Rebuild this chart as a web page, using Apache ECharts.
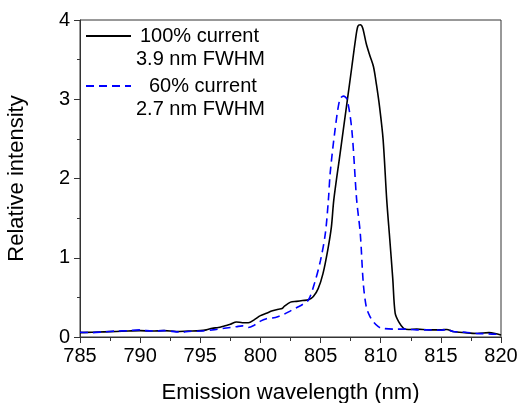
<!DOCTYPE html>
<html>
<head>
<meta charset="utf-8">
<script src="https://cdn.jsdelivr.net/npm/echarts@6/dist/echarts.min.js"></script>
<style>html,body{margin:0;padding:0;background:#fff}#c{width:520px;height:403px}</style>
</head>
<body>
<div id="c"></div>
<script>
// Data
var wl100 = [785,786,787,788,789,790,791,792,793,794,795,795.5,796,796.5,797,797.5,798,798.5,799,799.5,800,800.5,801,801.5,801.8,802,802.5,803,803.5,804,804.4,804.8,805.2,805.6,805.9,806.1,806.6,807.2,807.6,807.9,808.1,808.3,808.5,808.8,809.1,809.4,809.65,809.9,810.2,810.5,810.75,811,811.2,811.5,811.9,812.3,813,814,815,815.5,816,817,818,819,819.5,820];
var int100 = [0.055,0.06,0.065,0.07,0.075,0.08,0.075,0.08,0.07,0.075,0.08,0.09,0.11,0.12,0.14,0.16,0.19,0.18,0.18,0.22,0.27,0.30,0.33,0.35,0.36,0.39,0.44,0.45,0.46,0.47,0.51,0.61,0.80,1.10,1.39,1.73,2.29,2.96,3.41,3.75,3.92,3.94,3.90,3.70,3.55,3.41,3.18,2.91,2.49,1.73,1.24,0.74,0.30,0.19,0.11,0.095,0.10,0.09,0.09,0.095,0.07,0.055,0.045,0.055,0.045,0.025];
var wl60 = [785,786,787,788,789,790,790.5,791,792,793,793.5,794,795,796,797,798,798.5,799,799.5,800,800.5,801,801.5,802,802.5,803,803.5,804,804.5,805,805.4,805.65,805.8,806.2,806.6,806.9,807.2,807.6,808,808.3,808.55,808.8,809.1,809.4,809.8,810.1,811,812,813,814,815,815.5,816,817,818,819,820];
var int60 = [0.06,0.055,0.065,0.075,0.08,0.09,0.08,0.075,0.08,0.065,0.06,0.07,0.075,0.09,0.11,0.13,0.14,0.12,0.15,0.20,0.23,0.24,0.26,0.29,0.33,0.37,0.41,0.47,0.68,0.97,1.31,1.73,2.07,2.61,3.00,3.04,3.00,2.61,1.73,1.31,0.68,0.38,0.26,0.19,0.13,0.11,0.10,0.10,0.09,0.09,0.085,0.095,0.07,0.06,0.045,0.04,0.03];
var xTicks = [785,790,795,800,805,810,815,820];
var yTicks = [0,1,2,3,4];
var name100 = ['100% current','3.9 nm FWHM'];
var name60 = ['60% current','2.7 nm FWHM'];

function pairs(xs, ys){ return xs.map(function(x,i){return [x, ys[i]];}); }
var FONT = 'Liberation Sans, Arial, sans-serif';
var chart = echarts.init(document.getElementById('c'));
var s1 = name100.join(' / ');
var s2 = name60.join(' / ');
function legendFmt(lines, pads){
  return function(){
    return '{b| }\n{p' + pads[0] + '|' + lines[0] + '}\n{p' + pads[1] + '|' + lines[1] + '}';
  };
}
var rich = {b:{fontSize:20,lineHeight:23,fontFamily:FONT}};
[0,4,13].forEach(function(p){ rich['p'+p] = {fontSize:20,lineHeight:23,fontFamily:FONT,color:'#000',padding:[0,0,0,p]}; });
var legendCommon = {left:85,itemWidth:45,itemHeight:14,padding:0,itemStyle:{opacity:0},textStyle:{rich:rich}};
chart.setOption({
  animation:false,
  grid:{left:80,right:19,top:20,bottom:66,show:true,borderColor:'#333',borderWidth:1,containLabel:false,outerBoundsMode:'none'},
  legend:[
    Object.assign({data:[s1],top:3,formatter:legendFmt(name100,[4,0])}, legendCommon),
    Object.assign({data:[s2],top:53,formatter:legendFmt(name60,[13,0])}, legendCommon)
  ],
  xAxis:{type:'value',min:785,max:820,interval:5,
    name:'Emission wavelength (nm)',nameLocation:'middle',nameGap:45,
    nameTextStyle:{fontSize:22,fontFamily:FONT,color:'#000'},
    axisLine:{lineStyle:{color:'#333',width:1}},
    axisTick:{show:true,inside:false,length:6,lineStyle:{color:'#333',width:1}},
    minorTick:{show:true,splitNumber:2,length:4,lineStyle:{color:'#333',width:1}},
    splitLine:{show:false},
    axisLabel:{fontSize:20,fontFamily:FONT,color:'#000',margin:9,
      formatter:function(v){return xTicks.indexOf(v)>=0?String(v):'';}}
  },
  yAxis:{type:'value',min:0,max:4,interval:1,
    name:'Relative intensity',nameLocation:'middle',nameGap:52,
    nameTextStyle:{fontSize:22,fontFamily:FONT,color:'#000'},
    axisLine:{show:true,lineStyle:{color:'#333',width:1}},
    axisTick:{show:true,inside:false,length:6,lineStyle:{color:'#333',width:1}},
    minorTick:{show:true,splitNumber:2,length:3,lineStyle:{color:'#333',width:1}},
    splitLine:{show:false},
    axisLabel:{fontSize:20,fontFamily:FONT,color:'#000',margin:10,
      formatter:function(v){return yTicks.indexOf(v)>=0?String(v):'';}}
  },
  series:[
    {name:s1,type:'line',data:pairs(wl100,int100),symbol:'none',smooth:0.3,
      lineStyle:{color:'#000',width:1.6},itemStyle:{color:'#000'}},
    {name:s2,type:'line',data:pairs(wl60,int60),symbol:'none',smooth:0.3,
      lineStyle:{color:'#0000ff',width:1.6,type:[8,5]},itemStyle:{color:'#0000ff'}}
  ]
});
</script>
</body>
</html>
